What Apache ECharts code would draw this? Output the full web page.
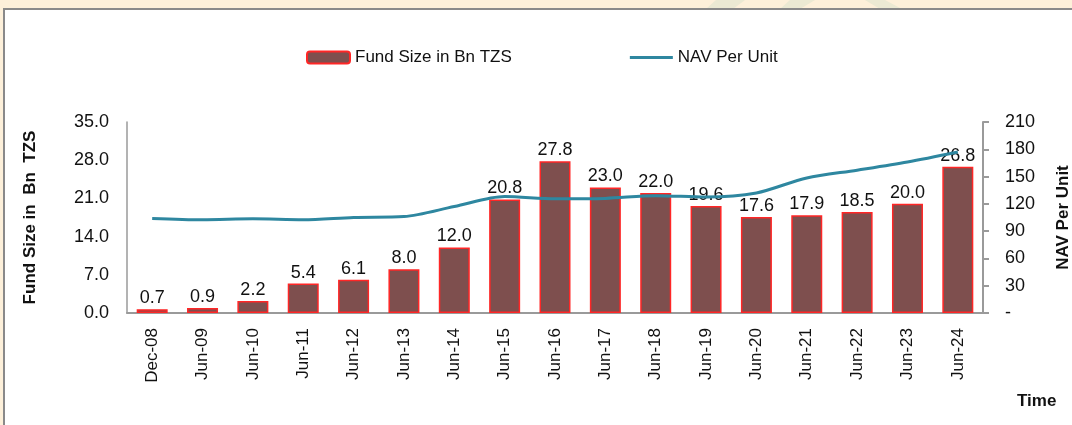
<!DOCTYPE html>
<html>
<head>
<meta charset="utf-8">
<script src="https://cdn.jsdelivr.net/npm/echarts@6/dist/echarts.min.js"></script>
<style>
  html, body { margin: 0; padding: 0; background: #fdf0da; }
  #chart { width: 1072px; height: 425px; }
</style>
</head>
<body>
<div id="chart"></div>
<script>
// periods on the x axis
const periods = ['Dec-08', 'Jun-09', 'Jun-10', 'Jun-11', 'Jun-12', 'Jun-13', 'Jun-14', 'Jun-15', 'Jun-16',
  'Jun-17', 'Jun-18', 'Jun-19', 'Jun-20', 'Jun-21', 'Jun-22', 'Jun-23', 'Jun-24']
// fund size, Bn TZS
const fundSize = [0.7, 0.9, 2.2, 5.4, 6.1, 8.0, 12.0, 20.8, 27.8, 23.0, 22.0, 19.6, 17.6, 17.9, 18.5, 20.0, 26.8]
// NAV per unit
const navPerUnit = [104, 102.5, 103.5, 102.5, 105, 106, 117, 128, 125.5, 126, 129, 127.5, 132, 148.5, 157, 166, 177]
const leftTicks = {min: 0, max: 35, interval: 7}
const rightTicks = {min: 0, max: 210, interval: 30}

const font = '"Liberation Sans", Arial, sans-serif'
const gray = '#9a9a9a'

let chart = echarts.init(document.getElementById('chart'))

let option = {
  animation: false,
  backgroundColor: '#fdf0da',
  textStyle: { fontFamily: font },
  graphic: [
    // faint logo shapes in the top strip
    { type: 'polygon', z: -20, shape: { points: [[716, 0], [745, 0], [733, 9], [706, 9]] }, style: { fill: '#ebe9d3' } },
    { type: 'polygon', z: -20, shape: { points: [[790, 0], [815, 0], [800, 9], [780, 9]] }, style: { fill: '#ebe9d3' } },
    { type: 'polygon', z: -20, shape: { points: [[865, 0], [885, 0], [902, 9], [880, 9]] }, style: { fill: '#ebe9d3' } },
    // white frame
    {
      type: 'rect', z: -10,
      shape: { x: 4, y: 9, width: 1100, height: 440 },
      style: { fill: '#ffffff', stroke: '#8a8a8a', lineWidth: 2 }
    },
    {
      type: 'text', left: 1017, top: 393,
      style: { text: 'Time', font: 'bold 17px ' + font, fill: '#111' }
    }
  ],
  legend: {
    left: 306,
    top: 49,
    padding: 0,
    itemWidth: 43,
    itemHeight: 12,
    itemGap: 118,
    textStyle: { fontSize: 17, color: '#111' },
    data: [
      { name: 'Fund Size in Bn TZS' },
      { name: 'NAV Per Unit', icon: 'path://M0,0 L43,0 L43,3 L0,3 Z' }
    ]
  },
  grid: { left: 127, right: 89, top: 122, bottom: 112, outerBoundsMode: 'none' },
  xAxis: {
    type: 'category',
    data: periods,
    axisLine: { lineStyle: { color: gray, width: 2 } },
    axisTick: { show: false },
    axisLabel: { rotate: 90, fontSize: 17, color: '#111', margin: 15, interval: 0 }
  },
  yAxis: [
    {
      type: 'value',
      min: leftTicks.min, max: leftTicks.max, interval: leftTicks.interval,
      name: 'Fund Size in  Bn  TZS',
      nameLocation: 'middle',
      nameGap: 88,
      nameTextStyle: { fontSize: 17, fontWeight: 'bold', color: '#111' },
      splitLine: { show: false },
      axisLine: { show: true, lineStyle: { color: gray, width: 1.5 } },
      axisTick: { show: false },
      axisLabel: { fontSize: 18, color: '#111', margin: 18, formatter: (v) => v.toFixed(1) }
    },
    {
      type: 'value',
      position: 'right',
      min: rightTicks.min, max: rightTicks.max, interval: rightTicks.interval,
      name: 'NAV Per Unit',
      nameLocation: 'middle',
      nameGap: 72,
      nameTextStyle: { fontSize: 17, fontWeight: 'bold', color: '#111' },
      splitLine: { show: false },
      axisLine: { show: true, lineStyle: { color: gray, width: 2 } },
      axisTick: { show: true, length: 6, lineStyle: { color: gray, width: 2 } },
      axisLabel: { fontSize: 18, color: '#111', margin: 22, formatter: (v) => v === 0 ? '-' : v }
    }
  ],
  series: [
    {
      name: 'Fund Size in Bn TZS',
      type: 'bar',
      yAxisIndex: 0,
      data: fundSize,
      barWidth: 31,
      itemStyle: { color: '#7e4f4e', borderColor: '#ff2626', borderWidth: 1.5 },
      label: {
        show: true, position: 'top', distance: 2,
        fontSize: 18, color: '#111',
        formatter: (p) => p.value.toFixed(1)
      }
    },
    {
      name: 'NAV Per Unit',
      type: 'line',
      yAxisIndex: 1,
      data: navPerUnit,
      smooth: 0.3,
      symbol: 'none',
      z: 3,
      lineStyle: { color: '#2e87a0', width: 3 },
      itemStyle: { color: '#2e87a0' }
    }
  ]
}

chart.setOption(option)
</script>
</body>
</html>
